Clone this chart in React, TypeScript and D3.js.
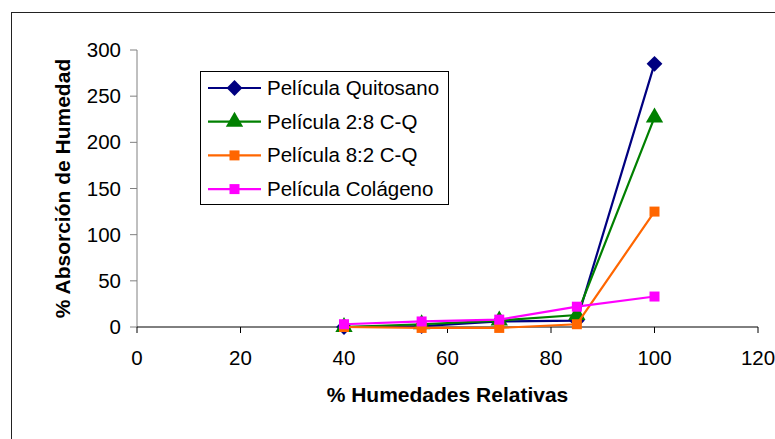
import {line, scaleLinear, symbol, symbolSquare, symbolTriangle} from "d3";

const HUMIDITY = [40, 55, 70, 85, 100];
const QUITOSANO = [0, 1, 6, 7, 285];
const MIX_28 = [0, 3, 7, 13, 227];
const MIX_82 = [0, -1, -1, 3, 125];
const COLAGENO = [3, 6, 8, 22, 33];

const X_TICKS = [0, 20, 40, 60, 80, 100, 120];
const Y_TICKS = [0, 50, 100, 150, 200, 250, 300];

const SERIES = [
  {name: "Película Quitosano", values: QUITOSANO, color: "#000080", shape: "diamond"},
  {name: "Película 2:8 C-Q", values: MIX_28, color: "#008000", shape: "triangle"},
  {name: "Película 8:2 C-Q", values: MIX_82, color: "#FF6600", shape: "square"},
  {name: "Película Colágeno", values: COLAGENO, color: "#FF00FF", shape: "square"}
];

const FONT = "'Liberation Sans', Arial, sans-serif";

// diamond = square turned 45deg, like Excel's marker
function markerPath(shape: string) {
  if (shape === "diamond") return symbol(symbolSquare, 125)();
  if (shape === "triangle") return symbol(symbolTriangle, 130)();
  return symbol(symbolSquare, 100)();
}

export default function App() {
  const width = 775;
  const height = 439;
  const plot = {left: 137, right: 758, top: 50, bottom: 327};

  const x = scaleLinear().domain([0, 120]).range([plot.left, plot.right]);
  const y = scaleLinear().domain([0, 300]).range([plot.bottom, plot.top]);

  const lineGen = line<[number, number]>()
    .x((d) => x(d[0]))
    .y((d) => y(d[1]));

  const legend = {x: 200.5, y: 71.5, w: 248, h: 133, row0: 88, rowStep: 33.7};

  return (
    <svg
      width={width}
      height={height}
      style={{position: "absolute", left: 0, top: 0, background: "#fff"}}
      fontFamily={FONT}
    >
      <rect x={11.5} y={12.5} width={900} height={600} fill="none" stroke="#222" strokeWidth={1} />

      {/* y axis */}
      <line x1={plot.left} x2={plot.left} y1={plot.top} y2={plot.bottom} stroke="#808080" strokeWidth={1} />
      {Y_TICKS.map((tick) => (
        <g key={`y-${tick}`}>
          <line x1={plot.left - 7} x2={plot.left} y1={y(tick)} y2={y(tick)} stroke="#808080" />
          <text x={121} y={y(tick) + 7} textAnchor="end" fontSize={20.5} fill="#000">
            {tick}
          </text>
        </g>
      ))}

      {/* x axis */}
      <line x1={plot.left} x2={plot.right} y1={plot.bottom} y2={plot.bottom} stroke="#000" strokeWidth={1} />
      {X_TICKS.map((tick) => (
        <g key={`x-${tick}`}>
          <line x1={x(tick)} x2={x(tick)} y1={plot.bottom} y2={plot.bottom + 6} stroke="#000" />
          <text x={x(tick)} y={365} textAnchor="middle" fontSize={20.5} fill="#000">
            {tick}
          </text>
        </g>
      ))}

      <text x={(plot.left + plot.right) / 2} y={402} textAnchor="middle" fontSize={21} fontWeight="bold">
        % Humedades Relativas
      </text>
      <text
        transform={`translate(70,${(plot.top + plot.bottom) / 2}) rotate(-90)`}
        textAnchor="middle"
        fontSize={21}
        fontWeight="bold"
      >
        % Absorción de Humedad
      </text>

      {SERIES.map((s) => {
        const points = HUMIDITY.map((h, i) => [h, s.values[i]] as [number, number]);
        const rot = s.shape === "diamond" ? " rotate(45)" : "";
        return (
          <g key={s.name}>
            <path d={lineGen(points) ?? ""} fill="none" stroke={s.color} strokeWidth={2.2} />
            {points.map(([h, v]) => (
              <path
                key={h}
                d={markerPath(s.shape) ?? ""}
                transform={`translate(${x(h)},${y(v)})${rot}`}
                fill={s.color}
              />
            ))}
          </g>
        );
      })}

      {/* legend */}
      <rect x={legend.x} y={legend.y} width={legend.w} height={legend.h} fill="#fff" stroke="#000" />
      {SERIES.map((s, i) => {
        const cy = legend.row0 + i * legend.rowStep;
        const rot = s.shape === "diamond" ? " rotate(45)" : "";
        return (
          <g key={`leg-${s.name}`}>
            <line x1={208} x2={261} y1={cy} y2={cy} stroke={s.color} strokeWidth={2.2} />
            <path d={markerPath(s.shape) ?? ""} transform={`translate(234.5,${cy})${rot}`} fill={s.color} />
            <text x={267} y={cy + 7} fontSize={20.5} fill="#000">
              {s.name}
            </text>
          </g>
        );
      })}
    </svg>
  );
}
